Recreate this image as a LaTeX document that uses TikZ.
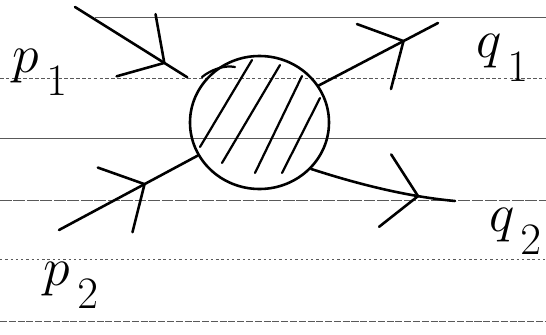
\documentclass[tikz,border=0pt]{standalone}
\usepackage{amsmath,amssymb}
\usepackage{tikz}
\usetikzlibrary{arrows.meta, positioning, calc, shapes.geometric, decorations.markings}

\newcommand{\msub}[2]{#1_{\,\lower 7pt\hbox{$\scriptstyle #2$}}}

\begin{document}
\begin{tikzpicture}[
    x=0.03cm, y=-0.03cm,
    rule/.style={black!65, line width=0.6pt},
    leg/.style={line width=2.2pt, line cap=round},
    blob/.style={draw, ellipse, line width=2.2pt, minimum width=4.17cm, minimum height=3.99cm, inner sep=0pt},
    hatch/.style={line width=1.9pt, line cap=round},
    mom/.style={anchor=base west, inner sep=0pt, font=\Huge, scale=1.85},
    chev/.style={postaction={decorate}, decoration={markings, mark=at position #1 with {\arrow{Straight Barb[length=1.0cm, width=2.2cm, line width=2.2pt, round]}}}},
]
    \useasboundingbox (0,0) rectangle (546,335);

    \draw[rule] (95,17) -- (546,17);
    \draw[rule, densely dashed] (0,78) -- (546,78);
    \draw[rule] (0,138) -- (546,138);
    \draw[rule, dash pattern=on 10pt off 1.5pt] (0,200) -- (546,200);
    \draw[rule, dash pattern=on 2pt off 2.5pt] (0,259) -- (546,259);
    \draw[rule, dash pattern=on 6pt off 1.5pt] (0,321) -- (546,321);

    \node[blob] (blob) at (259.5,122.5) {};

    \coordinate (p1in)  at (75,7);
    \coordinate (p2in)  at (59,230);
    \coordinate (q1out) at (438,23);
    \coordinate (q2out) at (455,201);

    \draw[leg, chev=3.2cm, shorten >=0.46cm] (p1in) -- (blob);
    \draw[leg, chev=2.95cm] (p2in) -- (blob);
    \draw[leg, chev=-1.13cm] (blob.32) -- (q1out);
    \draw[leg, chev=-1.08cm] (blob.-42) .. controls (345,180) and (400,196) .. (q2out);

    \draw[hatch] (200,147) -- (252,60);
    \draw[hatch] (222,163) -- (280,65);
    \draw[hatch] (255,173) -- (302,76);
    \draw[hatch] (282,173) -- (320,98);
    \draw[hatch] (202,77) .. controls (212,69) and (225,65) .. (235,67);

    \node[mom] (p1) at (12,72)  {$\msub{p}{1}$};
    \node[mom] (q1) at (476,58) {$\msub{q}{1}$};
    \node[mom] (q2) at (489,231) {$\msub{q}{2}$};
    \node[mom] (p2) at (43,285) {$\msub{p}{2}$};
\end{tikzpicture}
\end{document}
